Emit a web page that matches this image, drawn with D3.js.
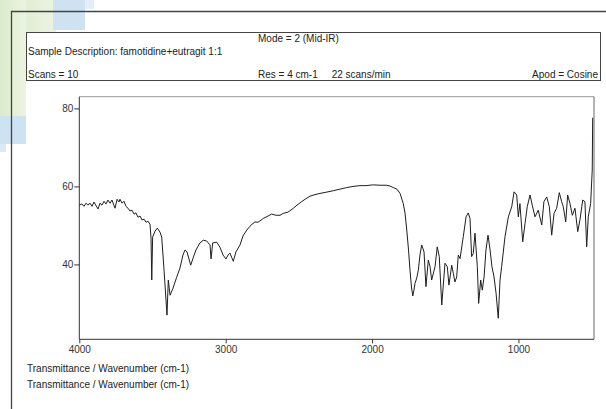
<!DOCTYPE html>
<html>
<head>
<meta charset="utf-8">
<script src="https://cdn.jsdelivr.net/npm/d3@7"></script>
<style>
  body { margin: 0; background: #fff; }
  text { font-family: "Liberation Sans", Arial, sans-serif; font-size: 10px; fill: #222; }
  .tick text { fill: #333; }
</style>
</head>
<body>
<script>
var width = 606,
    height = 409;

// wavenumber (cm-1) and transmittance
var wavenumber = [4000, 3982, 3968, 3954, 3941, 3927, 3913, 3900, 3872, 3859, 3845, 3831, 3818, 3804, 3790, 3777,
  3756, 3742, 3729, 3722, 3708, 3695, 3681, 3667, 3654, 3640, 3626, 3613, 3599, 3585, 3572, 3558, 3544, 3531,
  3517, 3510, 3505, 3499, 3483, 3467, 3449, 3437, 3421, 3415, 3401, 3392, 3380, 3360, 3335, 3312, 3292, 3278,
  3264, 3239, 3223, 3203, 3176, 3153, 3130, 3107, 3100, 3089, 3061, 3039, 3018, 2998, 2984, 2971, 2948, 2930,
  2902, 2882, 2856, 2834, 2820, 2800, 2779, 2743, 2711, 2686, 2656, 2629, 2606, 2574, 2538, 2513, 2481, 2458,
  2424, 2390, 2356, 2315, 2265, 2219, 2173, 2130, 2083, 2042, 1992, 1946, 1900, 1878, 1855, 1830, 1809, 1787,
  1775, 1763, 1751, 1741, 1731, 1722, 1714, 1707, 1695, 1684, 1673, 1661, 1645, 1632, 1616, 1604, 1593, 1570,
  1555, 1541, 1524, 1502, 1486, 1475, 1456, 1445, 1434, 1422, 1411, 1399, 1377, 1358, 1343, 1331, 1320, 1309,
  1297, 1281, 1272, 1258, 1247, 1235, 1222, 1208, 1194, 1181, 1167, 1153, 1138, 1126, 1115, 1092, 1069, 1046,
  1030, 1012, 1001, 990, 971, 955, 940, 921, 906, 887, 865, 841, 826, 807, 789, 773, 757, 739, 721, 705, 694,
  677, 664, 648, 632, 614, 595, 580, 561, 546, 534, 523, 507, 496, 493];

var transmittance = [55.2, 55.5, 54.9, 55.7, 55.2, 55.7, 54.9, 56.0, 54.2, 55.7, 55.2, 56.2, 55.5, 56.5, 55.7, 56.5,
  54.4, 56.7, 56.0, 56.7, 55.7, 56.2, 54.9, 54.4, 53.7, 53.9, 52.9, 53.2, 52.1, 52.4, 51.4, 51.6, 50.8, 51.1,
  50.3, 46.7, 36.0, 47.0, 48.5, 49.3, 48.3, 47.0, 38.5, 35.0, 27.0, 36.0, 32.1, 33.9, 36.7, 39.1, 42.4, 43.7,
  43.2, 39.8, 41.6, 43.7, 45.5, 46.2, 46.0, 45.0, 41.4, 45.5, 45.7, 44.4, 42.4, 41.4, 42.4, 42.9, 40.8, 43.2,
  45.0, 47.3, 48.8, 49.8, 50.3, 50.9, 50.8, 51.8, 52.4, 52.9, 52.6, 52.6, 53.1, 53.4, 54.4, 55.2, 56.1, 56.7,
  57.5, 57.9, 58.2, 58.5, 58.9, 59.3, 59.7, 60.0, 60.2, 60.2, 60.4, 60.3, 60.3, 60.1, 59.7, 59.3, 58.2, 55.6,
  53.2, 48.8, 43.7, 38.5, 34.2, 31.9, 33.4, 35.1, 36.5, 38.5, 42.4, 45.0, 43.2, 34.3, 41.1, 39.4, 36.0, 39.4,
  44.5, 42.0, 29.6, 40.3, 39.4, 34.7, 39.8, 37.7, 35.5, 36.8, 42.4, 41.5, 47.1, 52.2, 53.2, 51.8, 42.0, 42.8,
  48.0, 39.4, 30.0, 36.0, 33.4, 36.8, 43.7, 47.5, 43.7, 39.4, 36.8, 32.6, 26.2, 36.0, 39.4, 47.1, 52.2, 54.8,
  58.6, 57.8, 52.2, 55.6, 45.8, 50.5, 54.8, 57.8, 55.2, 52.2, 53.9, 50.1, 56.1, 57.3, 54.8, 47.5, 53.1, 54.4,
  58.4, 56.1, 54.8, 50.9, 57.8, 55.6, 52.6, 54.4, 48.4, 51.4, 56.5, 56.1, 44.5, 52.2, 55.6, 64.2, 77.6];

var xTicks = [4000, 3000, 2000, 1000],
    yTicks = [40, 60, 80];

var headerLines = [
  {text: "Mode = 2 (Mid-IR)", col: "mid", row: 0},
  {text: "Sample Description: famotidine+eutragit 1:1", col: "left", row: 1},
  {text: "Scans = 10", col: "left", row: 2},
  {text: "Res = 4 cm-1     22 scans/min", col: "mid", row: 2},
  {text: "Apod = Cosine", col: "right", row: 2}
];
var footerLines = ["Transmittance / Wavenumber (cm-1)", "Transmittance / Wavenumber (cm-1)"];

var svg = d3.select("body")
  .append("svg")
  .attr("width", width)
  .attr("height", height);

svg.append("rect").attr("width", width).attr("height", height).attr("fill", "#fff");

// pale decoration in the corner of the page
var grad = svg.append("defs").append("linearGradient")
  .attr("id", "green")
  .attr("x1", 0).attr("x2", 1).attr("y1", 0).attr("y2", 0);
grad.append("stop").attr("offset", 0).attr("stop-color", "#dcebcb");
grad.append("stop").attr("offset", 1).attr("stop-color", "#ebf3e2");

svg.append("rect").attr("x", 0).attr("y", 0).attr("width", 56).attr("height", 32).attr("fill", "url(#green)");
svg.append("rect").attr("x", 0).attr("y", 0).attr("width", 26).attr("height", 116).attr("fill", "url(#green)");
svg.append("rect").attr("x", 53).attr("y", 0).attr("width", 32).attr("height", 30).attr("fill", "#cfe2f1");
svg.append("rect").attr("x", 85).attr("y", 0).attr("width", 9).attr("height", 9).attr("fill", "#e3eef8");
svg.append("rect").attr("x", 0).attr("y", 116).attr("width", 26).attr("height", 28).attr("fill", "#cde2f2");
svg.append("rect").attr("x", 0).attr("y", 144).attr("width", 6).attr("height", 8).attr("fill", "#dde9f5");

// page frame
svg.append("path")
  .attr("d", "M11.5," + height + "V11.5H" + width)
  .attr("fill", "none")
  .attr("stroke", "#444")
  .attr("stroke-width", 1.3);

// header box
svg.append("rect")
  .attr("x", 26.5).attr("y", 32.5)
  .attr("width", 574).attr("height", 48)
  .attr("fill", "#fff")
  .attr("stroke", "#444");

var colX = {left: 28, mid: 258, right: 598},
    rowY = [41.5, 55, 78];

svg.selectAll(".header")
  .data(headerLines)
  .enter()
  .append("text")
  .attr("class", "header")
  .attr("x", function(d) { return colX[d.col]; })
  .attr("y", function(d) { return rowY[d.row]; })
  .attr("text-anchor", function(d) { return d.col === "right" ? "end" : "start"; })
  .style("white-space", "pre")
  .text(function(d) { return d.text; });

var plot = {left: 79.3, right: 594, top: 96.7, bottom: 339.3};

var x = d3.scaleLinear()
  .domain([4000, 484])
  .range([plot.left, plot.right]);

var y = d3.scaleLinear()
  .domain([20.8, 83])
  .range([plot.bottom, plot.top]);

// plot frame
svg.append("line").attr("x1", plot.left).attr("x2", plot.right).attr("y1", plot.top).attr("y2", plot.top)
  .attr("stroke", "#999");
svg.append("line").attr("x1", plot.right).attr("x2", plot.right).attr("y1", plot.top).attr("y2", plot.bottom)
  .attr("stroke", "#666");
svg.append("line").attr("x1", plot.left).attr("x2", plot.left).attr("y1", plot.top).attr("y2", plot.bottom)
  .attr("stroke", "#333");
svg.append("line").attr("x1", plot.left).attr("x2", plot.right).attr("y1", plot.bottom).attr("y2", plot.bottom)
  .attr("stroke", "#333");

var xAxis = svg.append("g")
  .attr("transform", "translate(0," + plot.bottom + ")")
  .call(d3.axisBottom(x).tickValues(xTicks).tickFormat(d3.format("d")).tickSize(4).tickPadding(3));

var yAxis = svg.append("g")
  .attr("transform", "translate(" + plot.left + ",0)")
  .call(d3.axisLeft(y).tickValues(yTicks).tickFormat(d3.format("d")).tickSize(5).tickPadding(1));

[xAxis, yAxis].forEach(function(g) {
  g.select(".domain").remove();
  g.selectAll(".tick line").attr("stroke", "#333");
  g.selectAll(".tick text").attr("font-size", 10).attr("font-family", "Liberation Sans, Arial, sans-serif");
});

var points = wavenumber.map(function(w, i) { return [w, transmittance[i]]; });

var line = d3.line()
  .x(function(d) { return x(d[0]); })
  .y(function(d) { return y(d[1]); });

svg.append("path")
  .datum(points)
  .attr("d", line)
  .attr("fill", "none")
  .attr("stroke", "#1e1e1e")
  .attr("stroke-width", 1)
  .attr("stroke-linejoin", "round");

svg.selectAll(".footer")
  .data(footerLines)
  .enter()
  .append("text")
  .attr("class", "footer")
  .attr("x", 27)
  .attr("y", function(d, i) { return 371.5 + i * 16; })
  .text(function(d) { return d; });
</script>
</body>
</html>
